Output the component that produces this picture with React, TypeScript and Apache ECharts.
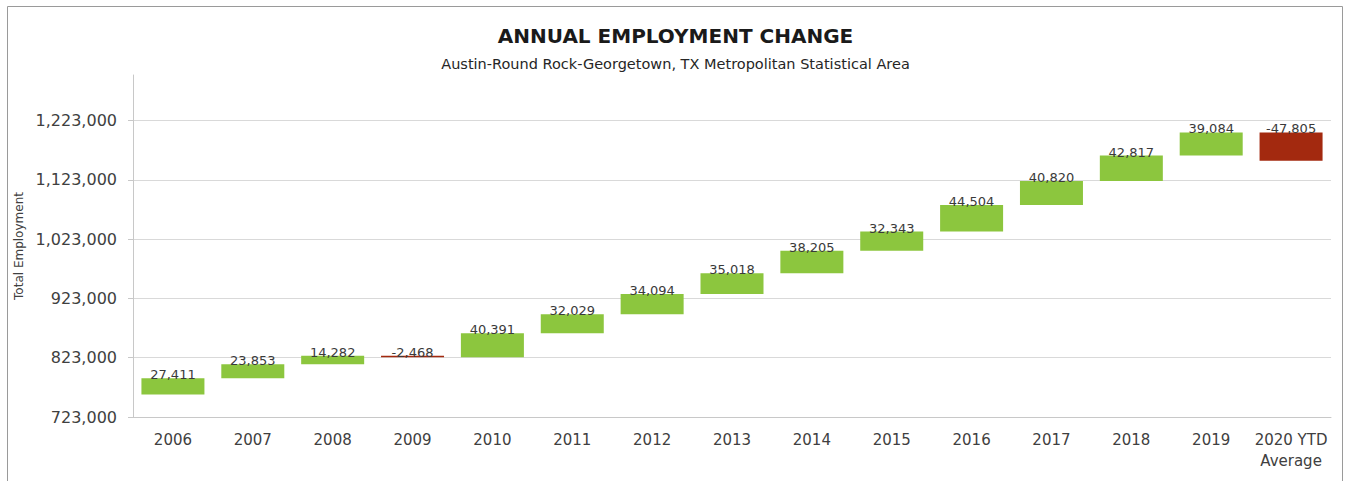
import React, { useEffect, useRef } from "react";
import * as echarts from "echarts";

const categories = [
  "2006", "2007", "2008", "2009", "2010", "2011", "2012", "2013",
  "2014", "2015", "2016", "2017", "2018", "2019", "2020 YTD\nAverage",
];
const changes = [
  27411, 23853, 14282, -2468, 40391, 32029, 34094, 35018,
  38205, 32343, 44504, 40820, 42817, 39084, -47805,
];
const startEmployment = 760800;
const yTicks = [723000, 823000, 923000, 1023000, 1123000, 1223000];

const GREEN = "#8cc63e";
const RED = "#a3290f";
const FONT = "DejaVu Sans";

export default function App() {
  const ref = useRef<HTMLDivElement>(null);

  useEffect(() => {
    if (!ref.current) return;
    const chart = echarts.init(ref.current, undefined, { renderer: "svg" });

    const bases: number[] = [];
    const heights: any[] = [];
    let level = startEmployment;
    changes.forEach((c) => {
      const after = level + c;
      bases.push(Math.min(level, after));
      heights.push({
        value: Math.abs(c),
        itemStyle: { color: c < 0 ? RED : GREEN },
      });
      level = after;
    });

    chart.setOption({
      animation: false,
      backgroundColor: "#ffffff",
      title: [
        {
          text: "ANNUAL EMPLOYMENT CHANGE",
          left: "center",
          top: 21,
          textStyle: { fontFamily: FONT, fontWeight: "bold", fontSize: 20, color: "#1a1a1a" },
        },
        {
          text: "Austin-Round Rock-Georgetown, TX Metropolitan Statistical Area",
          left: "center",
          top: 51,
          textStyle: { fontFamily: FONT, fontWeight: "normal", fontSize: 14.5, color: "#262626" },
        },
      ],
      graphic: [
        {
          type: "rect",
          shape: { x: 7.5, y: 6.5, width: 1335, height: 500 },
          style: { fill: "none", stroke: "#9a9a9a", lineWidth: 1 },
          silent: true,
        },
      ],
      grid: { left: 133, right: 20, top: 75, bottom: 64 },
      xAxis: {
        type: "category",
        data: categories,
        axisLine: { show: true, lineStyle: { color: "#c8c8c8", width: 1 } },
        axisTick: { show: false },
        axisLabel: {
          fontFamily: FONT,
          fontSize: 15,
          color: "#404040",
          margin: 12,
          lineHeight: 21,
          interval: 0,
        },
      },
      yAxis: {
        type: "value",
        min: 723000,
        max: 1300000,
        interval: 100000,
        name: "Total Employment",
        nameLocation: "middle",
        nameRotate: 90,
        nameGap: 101,
        nameTextStyle: { fontFamily: FONT, fontSize: 12, color: "#404040" },
        axisLine: { show: true, lineStyle: { color: "#c8c8c8", width: 1 } },
        axisTick: {
          show: true,
          length: 5,
          customValues: yTicks,
          lineStyle: { color: "#c8c8c8" },
        },
        axisLabel: {
          customValues: yTicks,
          fontFamily: FONT,
          fontSize: 16,
          color: "#404040",
          margin: 16,
          formatter: (v: number) => v.toLocaleString("en-US"),
        },
        splitLine: {
          show: true,
          lineStyle: { color: "#d9d9d9", width: 1 },
        },
      },
      series: [
        {
          type: "bar",
          stack: "wf",
          data: bases,
          silent: true,
          itemStyle: { color: "transparent" },
          barWidth: 63,
        },
        {
          type: "bar",
          stack: "wf",
          data: heights,
          barWidth: 63,
          label: {
            show: true,
            position: "top",
            distance: 0,
            offset: [0, 3],
            fontFamily: FONT,
            fontSize: 13,
            color: "#3a3a3a",
            formatter: (p: any) => changes[p.dataIndex].toLocaleString("en-US"),
          },
        },
      ],
    });

    return () => chart.dispose();
  }, []);

  return (
    <div
      ref={ref}
      style={{ position: "fixed", left: 0, top: 0, width: 1351, height: 481 }}
    />
  );
}
